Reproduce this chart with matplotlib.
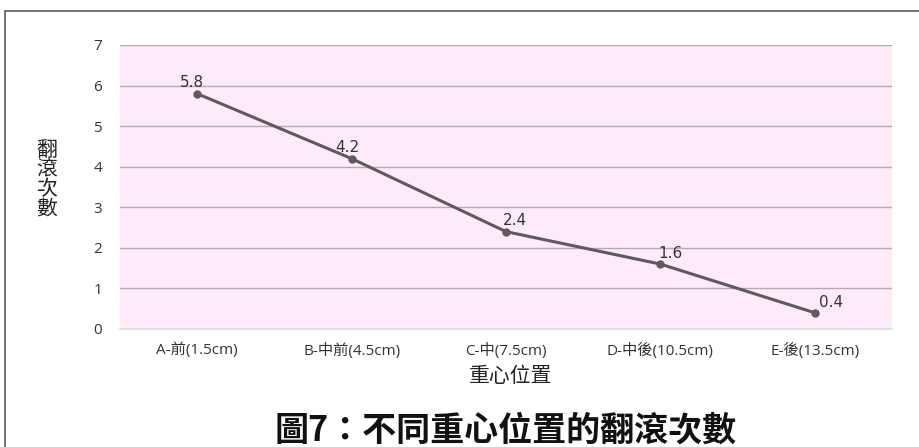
import matplotlib
matplotlib.use("Agg")
import matplotlib.pyplot as plt
from matplotlib.patches import Rectangle

plt.rcParams['font.family'] = ['Noto Sans CJK TC', 'DejaVu Sans']

categories = ["A-前(1.5cm)", "B-中前(4.5cm)", "C-中(7.5cm)", "D-中後(10.5cm)", "E-後(13.5cm)"]
rolls = [5.8, 4.2, 2.4, 1.6, 0.4]
y_ticks = [0, 1, 2, 3, 4, 5, 6, 7]

W, H = 919, 447
fig = plt.figure(figsize=(W / 100, H / 100), dpi=100)
fig.patch.set_facecolor("white")

# outer frame
fig.add_artist(Rectangle((5 / W, -0.01), (W - 4) / W, (H - 11) / H + 0.01,
                         transform=fig.transFigure, fill=False,
                         edgecolor="#5a5a5a", linewidth=1.2))

tick_font = ["Open Sans", "Noto Sans CJK TC"]

ax = fig.add_axes([120 / W, 1 - 329 / H, (892 - 120) / W, (329 - 45) / H])
ax.set_facecolor("#fdebfa")
x = list(range(len(categories)))
ax.set_xlim(-0.5, len(categories) - 0.5)
ax.set_ylim(0, 7)
ax.set_yticks(y_ticks)
ax.set_yticklabels([str(v) for v in y_ticks], family=tick_font)
ax.set_xticks(x)
ax.set_xticklabels(categories, family=tick_font)
ax.tick_params(axis="both", length=0, labelsize=11, colors="#333333")
ax.tick_params(axis="y", pad=13)
ax.tick_params(axis="x", pad=10)
ax.grid(axis="y", color="#b3abb3", linewidth=1.0)
ax.set_axisbelow(True)
for s in ["top", "right", "left"]:
    ax.spines[s].set_visible(False)
ax.spines["bottom"].set_color("#dcdcdc")
ax.spines["bottom"].set_linewidth(1.2)

ax.plot(x, rolls, color="#5e5a5d", linewidth=2.2, marker="o", markersize=5,
        markerfacecolor="#5e5a5d", markeredgecolor="#5e5a5d", zorder=3)

label_offsets = [(-3.6, 4.5), (-3, 4.5), (6.5, 4.5), (7.2, 4.5), (12, 4.5)]
for xi, v, off in zip(x, rolls, label_offsets):
    ax.annotate(f"{v}", (xi, v), xytext=off, textcoords="offset points",
                ha="center", va="baseline", fontsize=11, color="#333333",
                family=["DejaVu Sans"])

fig.text(511 / W, 1 - 376 / H, "重心位置", fontsize=15, color="#222222",
         ha="center", va="center")
fig.text(47 / W, 1 - 179 / H, "翻\n滾\n次\n數", fontsize=15, color="#222222",
         ha="center", va="center", linespacing=0.85)

fig.text(506 / W, 1 - 430 / H, "圖7：不同重心位置的翻滾次數", fontsize=24.5,
         fontweight="bold", color="#111111", ha="center", va="center")

fig.savefig("out.png", dpi=100)
